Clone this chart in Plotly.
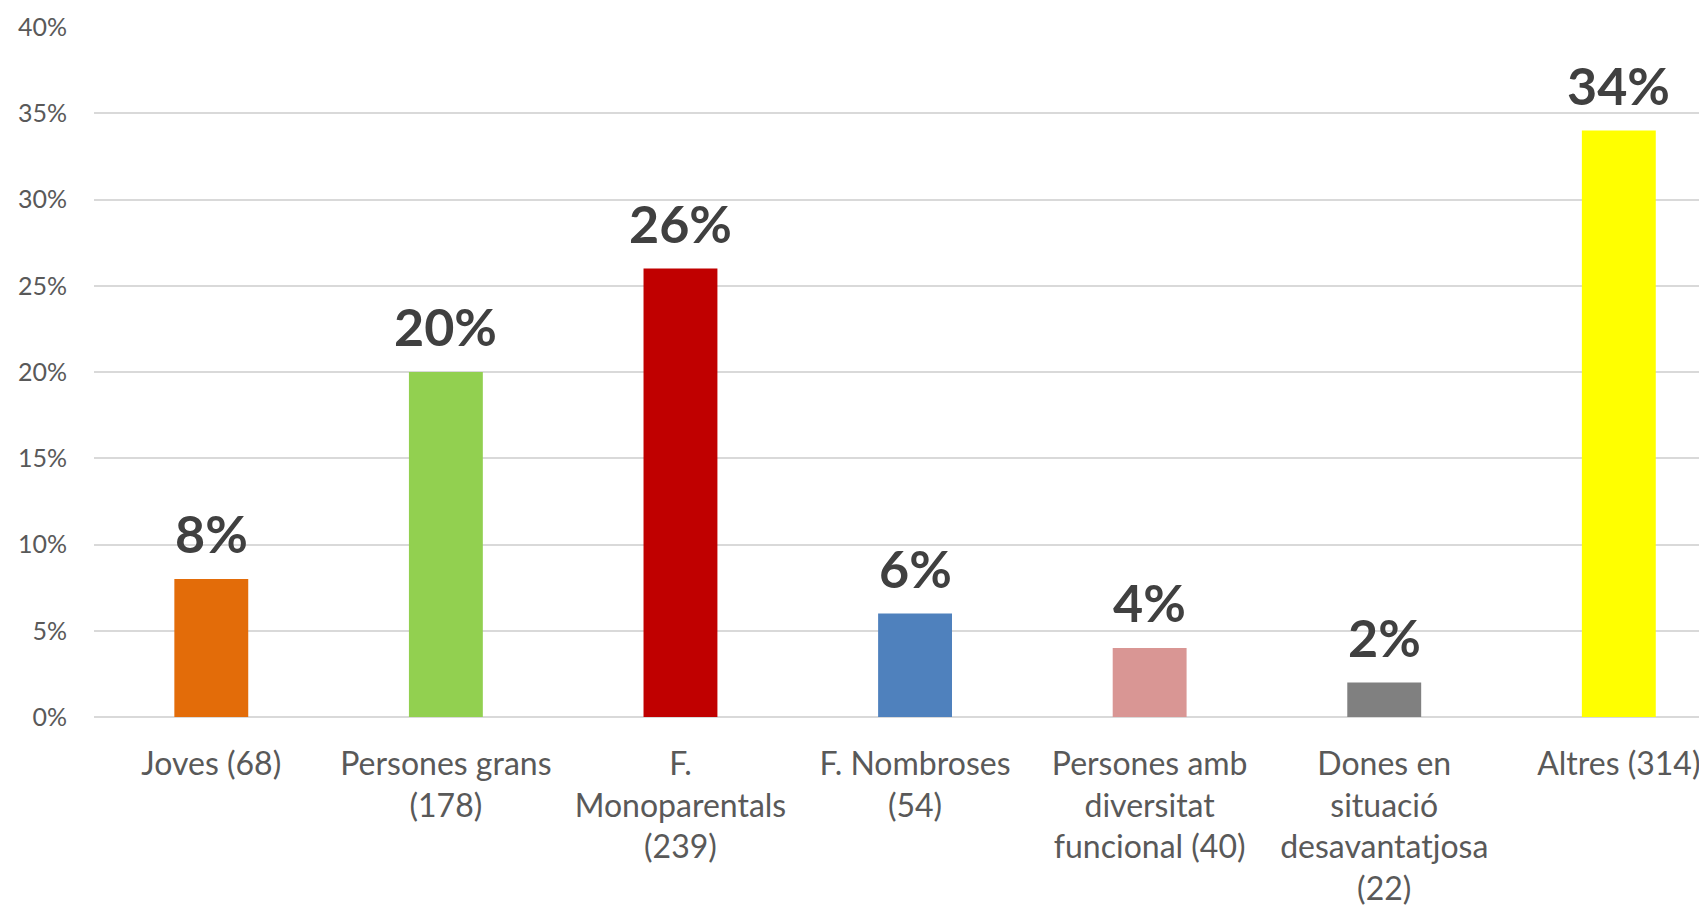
import plotly.graph_objects as go

categories = ["Joves (68)", "Persones grans<br>(178)", "F.<br>Monoparentals<br>(239)",
              "F. Nombroses<br>(54)", "Persones amb<br>diversitat<br>funcional (40)",
              "Dones en<br>situació<br>desavantatjosa<br>(22)", "Altres (314)"]
values = [8, 20, 26, 6, 4, 2, 34]
colors = ["#E36C09", "#92D050", "#C00000", "#4F81BD", "#D99694", "#808080", "#FFFF00"]
y_ticks = [0, 5, 10, 15, 20, 25, 30, 35, 40]
y_labels = [f"{t}%" for t in y_ticks]

x_idx = list(range(len(categories)))

fig = go.Figure(go.Bar(x=x_idx, y=values, marker=dict(color=colors, line=dict(width=0)),
                       hoverinfo="skip"))

for i, v in zip(x_idx, values):
    fig.add_annotation(x=i, y=v, text=f"{v}%", showarrow=False, yanchor="bottom",
                       yshift=13, font=dict(family="Lato", size=52, color="#404040", weight="bold"))

fig.update_layout(
    width=1707, height=906,
    margin=dict(l=86, r=0, t=19, b=197),
    paper_bgcolor="white", plot_bgcolor="white",
    bargap=0.685, showlegend=False,
    font=dict(family="Lato", color="#595959"),
)
fig.update_xaxes(range=[-0.5, 6.41], tickmode="array", tickvals=x_idx, ticktext=categories,
                 tickfont=dict(size=32, color="#595959"), showgrid=False, ticks="",
                 ticklabelstandoff=25, showline=False, zeroline=False)
fig.update_yaxes(range=[0, 40], tickmode="array", tickvals=y_ticks, ticktext=y_labels,
                 tickfont=dict(size=25, color="#595959"), showgrid=True, gridcolor="#D9D9D9",
                 gridwidth=2, zeroline=True, zerolinecolor="#D9D9D9", zerolinewidth=2,
                 ticklabelstandoff=26, showline=False)

fig.write_html("out.html")
